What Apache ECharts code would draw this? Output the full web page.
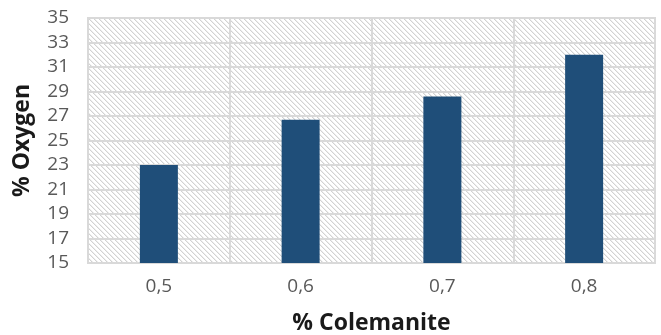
<!DOCTYPE html>
<html>
<head>
<meta charset="utf-8">
<script src="https://cdn.jsdelivr.net/npm/echarts@6/dist/echarts.min.js"></script>
<style>
html,body{margin:0;padding:0;background:#fff;}
#c{width:661px;height:335px;}
</style>
</head>
<body>
<div id="c"></div>
<script>
const categories = ['0,5', '0,6', '0,7', '0,8'];
const oxygenValues = [23.0, 26.7, 28.6, 32.0];
const yTicks = [15, 17, 19, 21, 23, 25, 27, 29, 31, 33, 35];

function makePattern() {
  const s = 5;
  const cv = document.createElement('canvas');
  cv.width = s; cv.height = s;
  const ctx = cv.getContext('2d');
  ctx.fillStyle = '#ffffff';
  ctx.fillRect(0, 0, s, s);
  for (let i = 0; i < s; i++) {
    ctx.fillStyle = '#d2d2d2';
    ctx.fillRect(i, i, 1, 1);
    ctx.fillStyle = '#eeeeee';
    ctx.fillRect((i + 1) % s, i, 1, 1);
  }
  return cv;
}

const chart = echarts.init(document.getElementById('c'));
const font = "'Open Sans', 'Liberation Sans', sans-serif";
chart.setOption({
  animation: false,
  grid: {
    left: 88, top: 18, right: 6, bottom: 72,
    outerBoundsMode: 'none',
    containLabel: false,
    show: true,
    backgroundColor: { image: makePattern(), repeat: 'repeat' },
    borderColor: '#d9d9d9',
    borderWidth: 2
  },
  xAxis: {
    type: 'category',
    data: categories,
    boundaryGap: true,
    axisLine: { show: true, lineStyle: { color: '#d9d9d9', width: 2 } },
    axisTick: { show: false },
    axisLabel: { color: '#595959', fontSize: 19, fontFamily: font, margin: 14 },
    splitLine: { show: true, lineStyle: { color: '#d9d9d9', width: 2 } },
    name: '% Colemanite',
    nameLocation: 'middle',
    nameGap: 49,
    nameTextStyle: { color: '#1a1a1a', fontSize: 23, fontWeight: 'bold', fontFamily: font }
  },
  yAxis: {
    type: 'value',
    min: yTicks[0],
    max: yTicks[yTicks.length - 1],
    interval: 2,
    axisLine: { show: false },
    axisTick: { show: false },
    axisLabel: { color: '#595959', fontSize: 19, fontFamily: font, margin: 19 },
    splitLine: { show: true, lineStyle: { color: '#d9d9d9', width: 2 } },
    name: '% Oxygen',
    nameLocation: 'middle',
    nameGap: 54,
    nameTextStyle: { color: '#1a1a1a', fontSize: 23, fontWeight: 'bold', fontFamily: font }
  },
  series: [{
    type: 'bar',
    data: oxygenValues,
    barWidth: 38,
    itemStyle: { color: '#1f4e79' }
  }]
});
</script>
</body>
</html>
